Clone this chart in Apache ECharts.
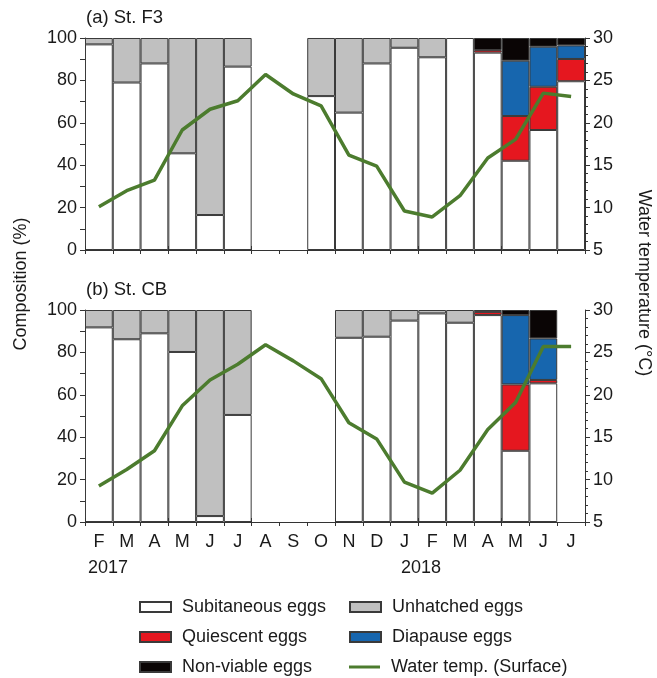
<!DOCTYPE html>
<html>
<head>
<meta charset="utf-8">
<script src="https://cdn.jsdelivr.net/npm/echarts@6/dist/echarts.min.js"></script>
<style>
html,body{margin:0;padding:0;background:#fff;}
#chart{width:657px;height:678px;}
</style>
</head>
<body>
<div id="chart"></div>
<script>
// ---- categories & tick labels ----
var periods = ['2017-02','2017-03','2017-04','2017-05','2017-06','2017-07','2017-08','2017-09','2017-10','2017-11','2017-12','2018-01','2018-02','2018-03','2018-04','2018-05','2018-06','2018-07'];
var monthLabels = ['F','M','A','M','J','J','A','S','O','N','D','J','F','M','A','M','J','J'];
var compTicks = [0, 20, 40, 60, 80, 100];
var tempTicks = [5, 10, 15, 20, 25, 30];

// ---- (a) St. F3 ----
var f3Subitaneous = [97, 79, 88, 45.6, 16.5, 86.5, null, null, 72.6, 64.8, 88, 95.4, 90.9, 100, 93.1, 42.1, 56.6, 79.6];
var f3Quiescent   = [0, 0, 0, 0, 0, 0, null, null, 0, 0, 0, 0, 0, 0, 1.2, 21.1, 20.4, 10.5];
var f3Diapause    = [0, 0, 0, 0, 0, 0, null, null, 0, 0, 0, 0, 0, 0, 0, 26.1, 18.9, 6.4];
var f3NonViable   = [0, 0, 0, 0, 0, 0, null, null, 0, 0, 0, 0, 0, 0, 5.7, 10.7, 4.1, 3.5];
var f3Unhatched   = [3, 21, 12, 54.4, 83.5, 13.5, null, null, 27.4, 35.2, 12, 4.6, 9.1, 0, 0, 0, 0, 0];
var f3Temp        = [10.1, 12.0, 13.25, 19.15, 21.6, 22.6, 25.7, 23.4, 22.0, 16.2, 14.9, 9.6, 8.9, 11.4, 15.85, 18.05, 23.5, 23.1];

// ---- (b) St. CB ----
var cbSubitaneous = [91.8, 86.2, 89.0, 80.2, 2.8, 50.5, null, null, null, 86.9, 87.4, 95.0, 98.4, 94.0, 97.6, 33.6, 65.4, null];
var cbQuiescent   = [0, 0, 0, 0, 0, 0, null, null, null, 0, 0, 0, 0, 0, 1.5, 31.3, 1.6, null];
var cbDiapause    = [0, 0, 0, 0, 0, 0, null, null, null, 0, 0, 0, 0, 0, 0, 32.7, 19.6, null];
var cbNonViable   = [0, 0, 0, 0, 0, 0, null, null, null, 0, 0, 0, 0, 0, 0.9, 2.4, 13.4, null];
var cbUnhatched   = [8.2, 13.8, 11.0, 19.8, 97.2, 49.5, null, null, null, 13.1, 12.6, 5.0, 1.6, 6.0, 0, 0, 0, null];
var cbTemp        = [9.25, 11.2, 13.4, 18.7, 21.75, 23.6, 25.9, 24.0, 21.9, 16.7, 14.8, 9.7, 8.4, 11.1, 15.9, 19.1, 25.7, 25.7];

// ---- styles ----
var FONT = 'Liberation Sans, Arial, sans-serif';
var FS = 18;
var TXT = '#1a1a1a';
var AX = '#333333';
var names = ['Subitaneous eggs','Quiescent eggs','Diapause eggs','Non-viable eggs','Unhatched eggs'];
var colors = ['#ffffff','#e5171f','#1766ae','#0a0505','#c0c0c0'];
var lineName = 'Water temp. (Surface)';
var lineColor = '#4c7c2e';

function clean(arr){ return arr.map(function(v){ return (v === 0 || v === null) ? '-' : v; }); }

function barSeries(xi, yi, stack, arrays){
  return arrays.map(function(arr, i){
    return {
      type: 'bar', name: names[i], xAxisIndex: xi, yAxisIndex: yi, stack: stack,
      barCategoryGap: '0%', data: clean(arr), z: 2,
      itemStyle: { color: colors[i], borderColor: '#3a3a3a', borderWidth: 1 },
      emphasis: { disabled: true }, animation: false
    };
  });
}
function lineSeries(xi, yi, arr){
  return { type: 'line', name: lineName, xAxisIndex: xi, yAxisIndex: yi, data: arr,
    symbol: 'none', z: 5, lineStyle: { color: lineColor, width: 3.5 }, itemStyle: { color: lineColor },
    animation: false };
}

function xAxes(gi, showLabels){
  return [{
    type: 'category', gridIndex: gi, data: periods, position: 'bottom',
    axisLine: { lineStyle: { color: AX, width: 1 } },
    axisTick: { show: true, length: 4, lineStyle: { color: AX } },
    axisLabel: { show: showLabels, interval: 0, margin: 11, fontSize: FS, fontFamily: FONT, color: TXT,
      formatter: function(v, idx){ return monthLabels[idx]; } },
    splitLine: { show: false }
  },{
    type: 'category', gridIndex: gi, data: periods, position: 'bottom', offset: 0,
    axisLine: { show: false },
    axisTick: { show: true, inside: true, length: 4, lineStyle: { color: AX } },
    axisLabel: { show: false }, splitLine: { show: false }, z: 10
  }];
}
function yAxes(gi){
  return [{
    type: 'value', gridIndex: gi, position: 'left', min: compTicks[0], max: compTicks[compTicks.length-1], interval: 20,
    axisLine: { show: true, lineStyle: { color: AX } },
    axisTick: { show: true, length: 5, lineStyle: { color: AX } },
    minorTick: { show: true, splitNumber: 2, length: 5, lineStyle: { color: AX } },
    axisLabel: { fontSize: FS, fontFamily: FONT, color: TXT, margin: 8 },
    splitLine: { show: false }
  },{
    type: 'value', gridIndex: gi, position: 'right', min: tempTicks[0], max: tempTicks[tempTicks.length-1], interval: 5,
    axisLine: { show: true, lineStyle: { color: AX } },
    axisTick: { show: true, length: 5, lineStyle: { color: AX } },
    minorTick: { show: true, splitNumber: 5, length: 3, lineStyle: { color: AX } },
    axisLabel: { fontSize: FS, fontFamily: FONT, color: TXT, margin: 8 },
    splitLine: { show: false }
  }];
}

function legendItem(name, left, cy, isLine){
  return {
    data: [{ name: name, icon: 'rect' }],
    left: left, top: cy - 9, padding: 0, orient: 'horizontal',
    itemWidth: 31, itemHeight: isLine ? 3 : 10,
    selectedMode: false,
    textStyle: { fontSize: FS, fontFamily: FONT, color: TXT, padding: [0, 0, 0, 6] }
  };
}

var option = {
  backgroundColor: '#ffffff',
  animation: false,
  grid: [
    { left: 85, right: 72, top: 38, height: 212, containLabel: false },
    { left: 85, right: 72, top: 310, height: 212, containLabel: false }
  ],
  xAxis: xAxes(0, false).concat(xAxes(1, true)),
  yAxis: yAxes(0).concat(yAxes(1)),
  legend: [
    legendItem(names[0], 139, 607),
    legendItem(names[4], 349, 607),
    legendItem(names[1], 139, 637),
    legendItem(names[2], 349, 637),
    legendItem(names[3], 139, 667),
    legendItem(lineName, 349, 667, true)
  ],
  graphic: [
    { type: 'text', left: 86, top: 8, style: { text: '(a) St. F3', fontSize: 18.5, fontFamily: FONT, fill: TXT } },
    { type: 'text', left: 86, top: 280, style: { text: '(b) St. CB', fontSize: 18.5, fontFamily: FONT, fill: TXT } },
    { type: 'text', x: 21, y: 284, rotation: Math.PI/2,
      style: { text: 'Composition (%)', fontSize: FS, fontFamily: FONT, fill: TXT, textAlign: 'center', textVerticalAlign: 'middle' } },
    { type: 'text', x: 644, y: 283, rotation: -Math.PI/2,
      style: { text: 'Water temperature (°C)', fontSize: FS, fontFamily: FONT, fill: TXT, textAlign: 'center', textVerticalAlign: 'middle' } },
    { type: 'text', x: 108, y: 568,
      style: { text: '2017', fontSize: FS, fontFamily: FONT, fill: TXT, textAlign: 'center', textVerticalAlign: 'middle' } },
    { type: 'text', x: 421, y: 568,
      style: { text: '2018', fontSize: FS, fontFamily: FONT, fill: TXT, textAlign: 'center', textVerticalAlign: 'middle' } }
  ],
  series: []
    .concat(barSeries(0, 0, 'f3', [f3Subitaneous, f3Quiescent, f3Diapause, f3NonViable, f3Unhatched]))
    .concat([lineSeries(0, 1, f3Temp)])
    .concat(barSeries(2, 2, 'cb', [cbSubitaneous, cbQuiescent, cbDiapause, cbNonViable, cbUnhatched]))
    .concat([lineSeries(2, 3, cbTemp)])
};

var chart = echarts.init(document.getElementById('chart'), null, { renderer: 'canvas' });
chart.setOption(option);
</script>
</body>
</html>
